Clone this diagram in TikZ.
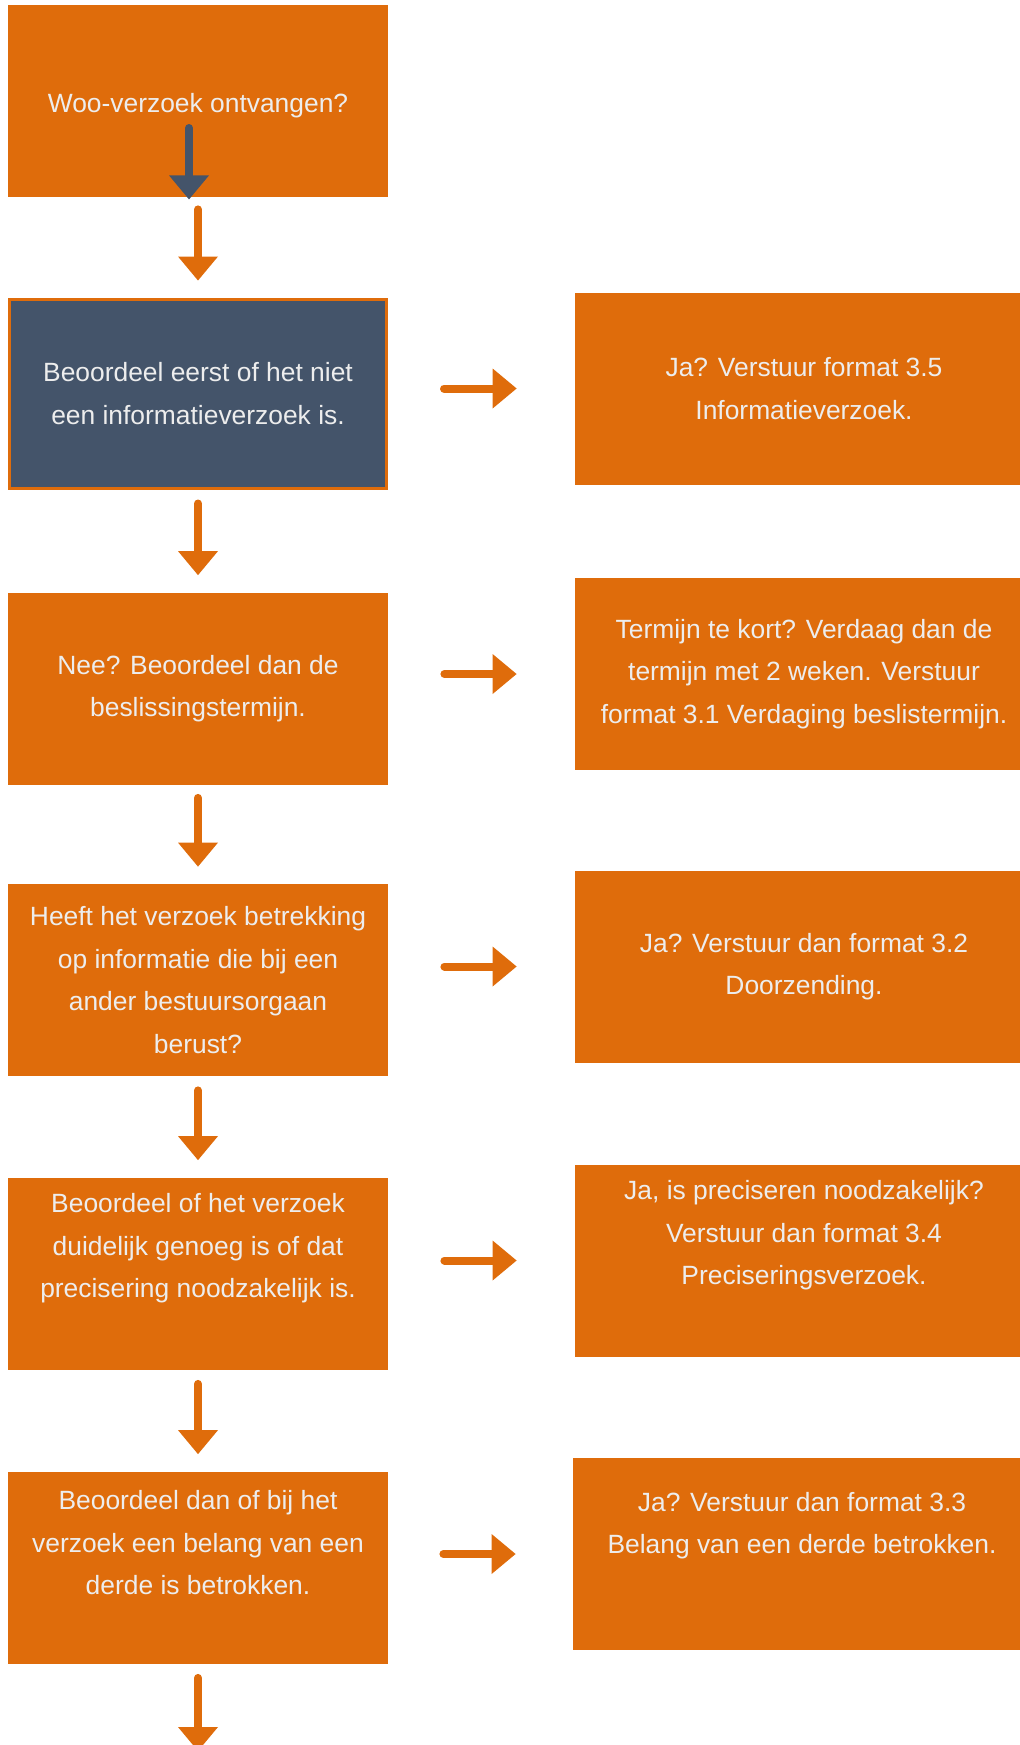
\documentclass[tikz,border=0pt]{standalone}
\usepackage{fontspec}
\setmainfont{Liberation Sans}
\usetikzlibrary{arrows.meta}
\definecolor{wooorange}{HTML}{DF6C0B}
\definecolor{wooblue}{HTML}{44546A}
\definecolor{wootext}{HTML}{EDEDED}
\tikzset{
	box/.style={fill=wooorange,text=wootext,align=center,inner sep=0pt,minimum height=96pt,font=\fontsize{13.2pt}{21.25pt}\selectfont,execute at begin node={\rule{0pt}{12.8pt}}},
	leftbox/.style={box,minimum width=190pt},
	rightbox/.style={box,minimum width=229pt},
	flow/.style={draw=wooorange,line width=4pt,line cap=round,-{Triangle[width=20pt,length=12pt,line width=0pt]}},
	darkflow/.style={flow,draw=wooblue},
}
\begin{document}
\begin{tikzpicture}[x=0.5pt,y=-0.5pt]
		\useasboundingbox (0,0) rectangle (1020,1745);
		\node [leftbox,execute at begin node={\rule{0pt}{14pt}}] (b1) at (198,101) {Woo-verzoek ontvangen?};
		\node [leftbox,fill=wooblue,draw=wooorange,line width=1.5pt,minimum width=188.5pt,minimum height=94.5pt] (b2) at (198,393.5) {Beoordeel eerst of het niet\\een informatieverzoek is.};
		\node [leftbox] (b3) at (198,688.5) {Nee? Beoordeel dan de\\beslissingstermijn.};
		\node [leftbox] (b4) at (198,980) {Heeft het verzoek betrekking\\op informatie die bij een\\ander bestuursorgaan\\berust?};
		\node [leftbox] (b5) at (198,1273.5) {Beoordeel of het verzoek\\duidelijk genoeg is of dat\\precisering noodzakelijk is.\\[6.5pt]\mbox{}};
		\node [leftbox] (b6) at (198,1567.5) {Beoordeel dan of bij het\\verzoek een belang van een\\derde is betrokken.\\[3.75pt]\mbox{}};
		\node [rightbox] (r1) at (804,388.5) {Ja? Verstuur format 3.5\\Informatieverzoek.};
		\node [rightbox] (r2) at (804,674) {Termijn te kort? Verdaag dan de\\termijn met 2 weken. Verstuur\\format 3.1 Verdaging beslistermijn.};
		\node [rightbox] (r3) at (804,966.5) {Ja? Verstuur dan format 3.2\\Doorzending.};
		\node [rightbox] (r4) at (804,1260.5) {Ja, is preciseren noodzakelijk?\\Verstuur dan format 3.4\\Preciseringsverzoek.\\[6.5pt]\mbox{}};
		\node [rightbox] (r5) at (802,1554) {Ja? Verstuur dan format 3.3\\Belang van een derde betrokken.\\[10pt]\mbox{}};
		\coordinate (end) at (198,1751);
		% arrows down
		\draw [darkflow] ([xshift=-4.5pt,yshift=-13.5pt]b1.center) -- ([xshift=-4.5pt,yshift=-1pt]b1.south);
		\draw [flow] ([yshift=-6pt]b1.south) -- ([yshift=8.5pt]b2.north);
		\draw [flow] ([yshift=-7pt]b2.south) -- ([yshift=8.5pt]b3.north);
		\draw [flow] ([yshift=-6.5pt]b3.south) -- ([yshift=8.5pt]b4.north);
		\draw [flow] ([yshift=-7pt]b4.south) -- ([yshift=8.5pt]b5.north);
		\draw [flow] ([yshift=-7pt]b5.south) -- ([yshift=8.5pt]b6.north);
		\draw [flow] ([yshift=-7pt]b6.south) -- (end);
		% arrows right
		\draw [flow] ([xshift=28pt]b2.east |- r1.west) -- ([xshift=-29pt]r1.west);
		\draw [flow] ([xshift=28pt]b3.east |- r2.west) -- ([xshift=-29pt]r2.west);
		\draw [flow] ([xshift=28pt]b4.east |- r3.west) -- ([xshift=-29pt]r3.west);
		\draw [flow] ([xshift=28pt]b5.east |- r4.west) -- ([xshift=-29pt]r4.west);
		\draw [flow] ([xshift=27.5pt]b6.east |- r5.west) -- ([xshift=-28.5pt]r5.west);
	\end{tikzpicture}
\end{document}
